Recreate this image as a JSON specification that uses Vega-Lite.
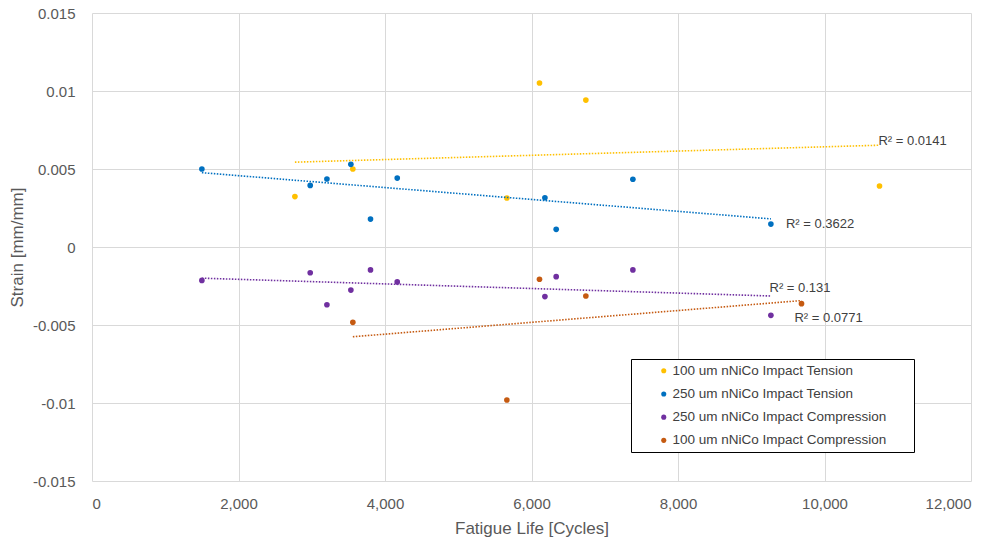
{
  "$schema": "https://vega.github.io/schema/vega-lite/v6.json",
  "width": 879,
  "height": 468,
  "autosize": "none",
  "padding": {"left": 92, "top": 13, "right": 26, "bottom": 61},
  "background": "white",
  "config": {
    "font": "Liberation Sans",
    "view": {"stroke": null},
    "axis": {
      "grid": true,
      "gridColor": "#d9d9d9",
      "gridWidth": 1,
      "domain": false,
      "ticks": false,
      "tickSize": 0,
      "labelColor": "#595959",
      "labelFontSize": 15,
      "titleColor": "#595959",
      "titleFontSize": 17,
      "titleFontWeight": "normal"
    }
  },
  "datasets": {
    "points": [
      {"series": "100 um nNiCo Impact Tension", "life": 2770, "strain": 0.00323},
      {"series": "100 um nNiCo Impact Tension", "life": 3561, "strain": 0.0050},
      {"series": "100 um nNiCo Impact Tension", "life": 5664, "strain": 0.00314},
      {"series": "100 um nNiCo Impact Tension", "life": 6109, "strain": 0.01051},
      {"series": "100 um nNiCo Impact Tension", "life": 6742, "strain": 0.00942},
      {"series": "100 um nNiCo Impact Tension", "life": 10751, "strain": 0.00391},
      {"series": "250 um nNiCo Impact Tension", "life": 1500, "strain": 0.0050},
      {"series": "250 um nNiCo Impact Tension", "life": 2979, "strain": 0.00395},
      {"series": "250 um nNiCo Impact Tension", "life": 3207, "strain": 0.00436},
      {"series": "250 um nNiCo Impact Tension", "life": 3534, "strain": 0.0053},
      {"series": "250 um nNiCo Impact Tension", "life": 3802, "strain": 0.00179},
      {"series": "250 um nNiCo Impact Tension", "life": 4167, "strain": 0.00442},
      {"series": "250 um nNiCo Impact Tension", "life": 6183, "strain": 0.00316},
      {"series": "250 um nNiCo Impact Tension", "life": 6337, "strain": 0.00113},
      {"series": "250 um nNiCo Impact Tension", "life": 7384, "strain": 0.00434},
      {"series": "250 um nNiCo Impact Tension", "life": 9268, "strain": 0.00147},
      {"series": "250 um nNiCo Impact Compression", "life": 1500, "strain": -0.00214},
      {"series": "250 um nNiCo Impact Compression", "life": 2979, "strain": -0.00165},
      {"series": "250 um nNiCo Impact Compression", "life": 3207, "strain": -0.0037},
      {"series": "250 um nNiCo Impact Compression", "life": 3534, "strain": -0.00276},
      {"series": "250 um nNiCo Impact Compression", "life": 3802, "strain": -0.00147},
      {"series": "250 um nNiCo Impact Compression", "life": 4167, "strain": -0.00224},
      {"series": "250 um nNiCo Impact Compression", "life": 6183, "strain": -0.00318},
      {"series": "250 um nNiCo Impact Compression", "life": 6337, "strain": -0.0019},
      {"series": "250 um nNiCo Impact Compression", "life": 7384, "strain": -0.00147},
      {"series": "250 um nNiCo Impact Compression", "life": 9268, "strain": -0.00438},
      {"series": "100 um nNiCo Impact Compression", "life": 3561, "strain": -0.00483},
      {"series": "100 um nNiCo Impact Compression", "life": 5664, "strain": -0.00981},
      {"series": "100 um nNiCo Impact Compression", "life": 6109, "strain": -0.00207},
      {"series": "100 um nNiCo Impact Compression", "life": 6742, "strain": -0.00314},
      {"series": "100 um nNiCo Impact Compression", "life": 9686, "strain": -0.00363}
    ],
    "labels": [
      {"life": 10737, "strain": 0.0068, "label": "R² = 0.0141"},
      {"life": 9473, "strain": 0.00146, "label": "R² = 0.3622"},
      {"life": 9249, "strain": -0.00261, "label": "R² = 0.131"},
      {"life": 9590, "strain": -0.00453, "label": "R² = 0.0771"}
    ]
  },
  "encoding": {
    "x": {
      "field": "life",
      "type": "quantitative",
      "title": "Fatigue Life [Cycles]",
      "scale": {"domain": [0, 12000], "nice": false, "zero": false},
      "axis": {"values": [0, 2000, 4000, 6000, 8000, 10000, 12000], "labelExpr": "format(datum.value, ',')", "labelPadding": 15, "titlePadding": 9}
    },
    "y": {
      "field": "strain",
      "type": "quantitative",
      "title": "Strain [mm/mm]",
      "scale": {"domain": [-0.015, 0.015], "nice": false, "zero": false},
      "axis": {"values": [-0.015, -0.01, -0.005, 0, 0.005, 0.01, 0.015], "labelExpr": "replace(format(datum.value, '~g'), '\u2212', '-')", "labelPadding": 17, "titlePadding": 6}
    }
  },
  "layer": [
    {
      "data": {"name": "points"},
      "mark": {"type": "point", "shape": "circle", "filled": true, "opacity": 1, "size": 32},
      "encoding": {
        "color": {
          "field": "series",
          "type": "nominal",
          "scale": {
            "domain": ["100 um nNiCo Impact Tension", "250 um nNiCo Impact Tension", "250 um nNiCo Impact Compression", "100 um nNiCo Impact Compression"],
            "range": ["#FFC000", "#0070C0", "#7030A0", "#C55A11"]
          },
          "legend": {
            "title": null,
            "orient": "none",
            "legendX": 539,
            "legendY": 346,
            "padding": 5,
            "symbolOffset": 21,
            "symbolType": "circle",
            "symbolSize": 26,
            "symbolStrokeWidth": 0,
            "labelOffset": 2,
            "labelFontSize": 13.5,
            "labelColor": "#404040",
            "labelLimit": 400,
            "rowPadding": 8.2,
            "strokeColor": "#000000",
            "fillColor": "white",
            "cornerRadius": 0,
            "labelExpr": "datum.label + '\u00a0\u00a0\u00a0\u00a0\u00a0\u00a0\u200b'"
          }
        }
      }
    },
    {
      "data": {"name": "points"},
      "transform": [{"regression": "strain", "on": "life", "groupby": ["series"]}],
      "mark": {"type": "line", "strokeDash": [1.5, 1.5], "strokeWidth": 1.6},
      "encoding": {
        "stroke": {
          "field": "series",
          "type": "nominal",
          "scale": {
            "domain": ["100 um nNiCo Impact Tension", "250 um nNiCo Impact Tension", "250 um nNiCo Impact Compression", "100 um nNiCo Impact Compression"],
            "range": ["#FFC000", "#0070C0", "#7030A0", "#C55A11"]
          },
          "legend": null
        }
      }
    },
    {
      "data": {"name": "labels"},
      "mark": {"type": "text", "align": "left", "baseline": "middle", "fontSize": 13, "color": "#404040"},
      "encoding": {
        "text": {"field": "label", "type": "nominal"}
      }
    }
  ]
}
